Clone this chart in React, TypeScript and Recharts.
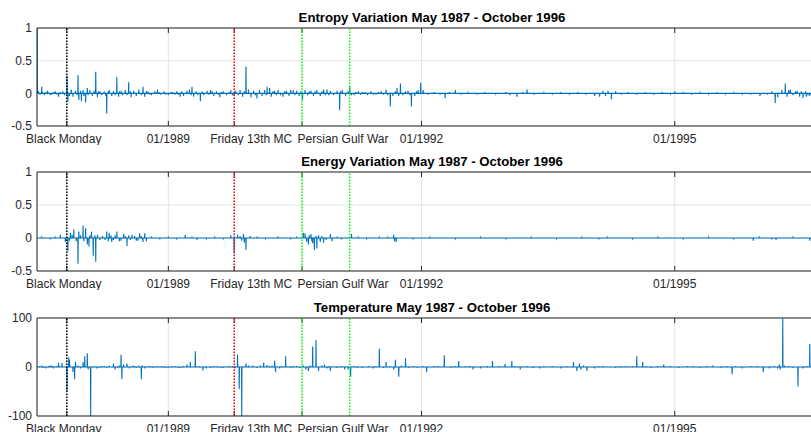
import React from "react";
import { LineChart, Line, XAxis, YAxis, CartesianGrid, ReferenceLine } from "recharts";

// time axis in decimal years
const X_START = 1987.444;
const X_END = 1996.804;

const EVENT_DATES = [1987.797, 1989.781, 1990.584, 1991.148];
const EVENT_COLORS = ["#000000", "#ff0000", "#00ff00", "#00ff00"];

const X_TICKS = [1987.797, 1989, 1989.781, 1990.584, 1992, 1995];
const X_TICK_LABELS = ["Black Monday", "01/1989", "Friday 13th MC", "Persian Gulf War", "01/1992", "01/1995"];
const X_TICK_DX = [-3, 0, 17, 41, 0, 0];

// [date, value]
const ENTROPY_SPIKES = [
  [1987.446, 1.0], [1987.5, 0.1], [1987.8, 0.27], [1987.81, -0.12], [1987.93, 0.28], [1987.94, -0.1],
  [1987.97, -0.12], [1988.02, -0.14], [1988.04, 0.08], [1988.14, 0.33], [1988.16, -0.06], [1988.27, -0.31],
  [1988.3, 0.05], [1988.39, 0.25], [1988.41, -0.05], [1988.53, 0.17], [1988.56, -0.06], [1988.7, 0.1],
  [1988.72, -0.05], [1988.87, 0.06], [1989.14, -0.05], [1989.28, 0.1], [1989.3, -0.05], [1989.38, -0.12],
  [1989.61, -0.06], [1989.74, 0.05], [1989.78, -0.04], [1989.92, 0.41], [1990.05, -0.08], [1990.17, 0.1],
  [1990.36, -0.05], [1990.48, 0.05], [1990.59, -0.1], [1990.88, 0.06], [1991.03, -0.26], [1991.15, 0.11],
  [1991.63, -0.2], [1991.75, 0.15], [1991.88, -0.2], [1991.99, 0.16], [1992.02, 0.05], [1992.28, -0.07],
  [1992.4, 0.05], [1993.13, -0.05], [1993.25, 0.06], [1994.11, -0.05], [1994.21, 0.04], [1994.25, -0.09],
  [1995.0, 0.03], [1995.5, 0.02], [1996.01, -0.04], [1996.19, -0.15], [1996.31, 0.15], [1996.33, -0.05],
  [1996.37, 0.06], [1996.45, 0.04], [1996.52, -0.07], [1996.56, -0.05], [1996.6, -0.04],
];
const ENTROPY_NOISE = [
  [1987.46, 0.03], [1987.48, -0.02], [1987.51, 0.02], [1987.53, -0.03], [1987.55, 0.02], [1987.57, 0.04],
  [1987.6, -0.03], [1987.62, -0.02], [1987.64, 0.02], [1987.66, 0.03], [1987.68, -0.02], [1987.7, -0.05],
  [1987.72, 0.02], [1987.75, 0.03], [1987.77, -0.03], [1987.83, -0.04], [1987.85, 0.06], [1987.87, -0.05],
  [1987.9, 0.04], [1987.92, -0.03], [1987.96, 0.04], [1987.99, 0.05], [1988.0, -0.04], [1988.05, -0.03],
  [1988.07, 0.05], [1988.1, -0.04], [1988.12, 0.04], [1988.17, 0.03], [1988.19, 0.03], [1988.21, -0.03],
  [1988.24, 0.03], [1988.26, -0.04], [1988.29, 0.03], [1988.33, -0.04], [1988.35, 0.04], [1988.37, -0.03],
  [1988.42, 0.03], [1988.44, 0.04], [1988.46, -0.03], [1988.49, 0.05], [1988.51, -0.03], [1988.55, 0.03],
  [1988.59, 0.04], [1988.62, -0.04], [1988.65, 0.06], [1988.68, -0.03], [1988.74, 0.03], [1988.76, 0.03],
  [1988.78, -0.02], [1988.8, -0.03], [1988.84, 0.03], [1988.89, 0.02], [1988.91, -0.02], [1988.95, 0.03],
  [1988.97, -0.02], [1989.0, -0.03], [1989.03, 0.02], [1989.05, 0.02], [1989.08, -0.02], [1989.1, 0.03],
  [1989.12, -0.02], [1989.16, 0.03], [1989.18, -0.04], [1989.22, 0.04], [1989.25, 0.06], [1989.27, -0.03],
  [1989.33, 0.03], [1989.35, -0.03], [1989.4, 0.03], [1989.42, -0.03], [1989.46, 0.04], [1989.48, -0.02],
  [1989.5, 0.05], [1989.52, 0.03], [1989.54, -0.04], [1989.57, 0.03], [1989.59, -0.02], [1989.63, 0.02],
  [1989.65, 0.03], [1989.69, -0.03], [1989.72, 0.02], [1989.76, -0.03], [1989.8, 0.04], [1989.83, -0.03],
  [1989.85, 0.05], [1989.88, -0.05], [1989.9, 0.03], [1989.95, 0.06], [1989.98, -0.06], [1990.01, 0.04],
  [1990.03, -0.03], [1990.08, 0.05], [1990.11, -0.04], [1990.14, 0.05], [1990.16, -0.03], [1990.2, 0.08],
  [1990.22, -0.05], [1990.24, 0.03], [1990.26, 0.04], [1990.28, -0.03], [1990.3, 0.05], [1990.33, -0.03],
  [1990.38, 0.03], [1990.4, 0.04], [1990.43, -0.04], [1990.45, 0.05], [1990.5, -0.03], [1990.52, 0.04],
  [1990.55, -0.04], [1990.57, 0.03], [1990.62, 0.05], [1990.65, -0.03], [1990.67, 0.03], [1990.69, 0.04],
  [1990.72, -0.04], [1990.74, 0.03], [1990.76, 0.05], [1990.8, -0.04], [1990.82, 0.03], [1990.84, 0.06],
  [1990.86, -0.03], [1990.9, -0.03], [1990.92, 0.04], [1990.96, -0.03], [1991.0, 0.04], [1991.04, 0.03],
  [1991.06, 0.05], [1991.1, -0.04], [1991.13, 0.04], [1991.17, -0.03], [1991.2, -0.03], [1991.22, 0.02],
  [1991.25, 0.03], [1991.28, -0.02], [1991.3, 0.02], [1991.33, 0.02], [1991.36, -0.03], [1991.4, 0.03],
  [1991.43, -0.02], [1991.46, -0.02], [1991.49, 0.02], [1991.52, 0.03], [1991.55, -0.02], [1991.58, 0.06],
  [1991.6, -0.03], [1991.66, -0.04], [1991.69, 0.03], [1991.71, 0.08], [1991.73, -0.04], [1991.78, -0.03],
  [1991.81, 0.03], [1991.84, 0.04], [1991.86, -0.03], [1991.92, -0.04], [1991.94, 0.03], [1991.96, 0.05],
  [1992.08, -0.02], [1992.15, 0.02], [1992.22, -0.02], [1992.33, 0.02], [1992.47, -0.02], [1992.55, 0.01],
  [1992.66, -0.02], [1992.75, 0.02], [1992.88, -0.01], [1993.0, 0.02], [1993.05, -0.03], [1993.2, 0.02],
  [1993.33, -0.02], [1993.45, 0.01], [1993.55, -0.02], [1993.65, 0.02], [1993.75, -0.01], [1993.85, 0.02],
  [1993.95, -0.01], [1994.05, -0.04], [1994.15, 0.04], [1994.18, -0.04], [1994.3, 0.03], [1994.37, -0.02],
  [1994.45, 0.02], [1994.55, -0.02], [1994.65, 0.02], [1994.75, -0.02], [1994.85, 0.02], [1994.95, -0.01],
  [1995.1, 0.01], [1995.2, -0.02], [1995.3, 0.01], [1995.4, -0.01], [1995.6, -0.01], [1995.7, 0.01],
  [1995.8, -0.01], [1995.9, -0.02], [1996.1, -0.02], [1996.15, 0.03], [1996.22, -0.06], [1996.27, 0.05],
  [1996.35, 0.05], [1996.4, -0.03], [1996.43, 0.03], [1996.48, -0.05], [1996.5, 0.03], [1996.55, 0.03],
  [1996.58, -0.03], [1996.63, -0.05], [1996.66, 0.03], [1996.7, -0.04],
];

const ENERGY_SPIKES = [
  [1987.72, 0.05], [1987.78, -0.06], [1987.81, -0.2], [1987.84, 0.08], [1987.88, 0.13], [1987.93, -0.39],
  [1987.94, 0.1], [1987.99, 0.19], [1988.02, 0.15], [1988.04, -0.1], [1988.06, -0.13], [1988.09, 0.1],
  [1988.11, -0.27], [1988.14, -0.36], [1988.16, 0.05], [1988.27, 0.1], [1988.29, -0.05], [1988.3, 0.08],
  [1988.33, -0.06], [1988.39, 0.1], [1988.42, -0.05], [1988.47, 0.06], [1988.51, -0.12], [1988.57, 0.05],
  [1988.62, -0.04], [1988.66, 0.07], [1988.7, -0.06], [1988.72, 0.07], [1988.74, -0.05], [1989.2, 0.05],
  [1989.34, -0.03], [1989.74, 0.04], [1989.78, -0.23], [1989.82, 0.05], [1989.89, 0.06], [1989.9, -0.07],
  [1989.92, -0.18], [1989.97, 0.03], [1990.6, 0.08], [1990.62, 0.07], [1990.64, -0.06], [1990.66, -0.1],
  [1990.69, 0.06], [1990.71, -0.08], [1990.73, -0.18], [1990.76, -0.16], [1990.78, 0.04], [1990.8, -0.06],
  [1990.84, -0.07], [1990.92, 0.06], [1990.94, -0.05], [1991.17, 0.06], [1991.67, 0.05], [1991.68, -0.05],
  [1991.7, -0.06], [1995.93, -0.04], [1996.6, -0.04],
];
const ENERGY_NOISE = [
  [1987.5, 0.01], [1987.6, -0.01], [1987.66, 0.01], [1987.83, -0.04], [1987.86, 0.05], [1987.91, -0.05],
  [1987.96, 0.04], [1988.0, -0.05], [1988.07, 0.04], [1988.13, 0.04], [1988.19, -0.03], [1988.22, 0.03],
  [1988.25, -0.03], [1988.32, 0.04], [1988.35, -0.03], [1988.37, 0.04], [1988.44, -0.04], [1988.49, 0.03],
  [1988.53, 0.04], [1988.55, -0.03], [1988.6, 0.03], [1988.64, -0.04], [1988.68, 0.03], [1988.8, 0.02],
  [1988.9, -0.01], [1989.0, 0.01], [1989.1, -0.01], [1989.28, 0.02], [1989.45, -0.01], [1989.55, 0.01],
  [1989.65, -0.01], [1989.85, 0.03], [1989.87, -0.04], [1990.05, 0.02], [1990.15, -0.01], [1990.3, 0.02],
  [1990.45, -0.02], [1990.52, 0.02], [1990.67, 0.04], [1990.7, -0.05], [1990.75, 0.03], [1990.82, 0.03],
  [1990.87, -0.03], [1991.0, 0.02], [1991.05, -0.02], [1991.25, 0.01], [1991.35, -0.01], [1991.5, 0.01],
  [1991.6, 0.01], [1991.9, -0.01], [1992.1, 0.01], [1992.4, -0.01], [1992.7, 0.01], [1993.0, -0.01],
  [1993.3, 0.01], [1993.6, -0.01], [1993.9, 0.01], [1994.1, -0.02], [1994.2, 0.01], [1994.5, -0.01],
  [1994.8, 0.01], [1995.1, -0.01], [1995.4, 0.01], [1995.7, -0.01], [1996.0, 0.01], [1996.15, -0.02],
  [1996.2, -0.03], [1996.4, 0.01],
];

const TEMP_SPIKES = [
  [1987.5, 3], [1987.55, -3], [1987.6, 3], [1987.7, 8], [1987.74, 8], [1987.8, -50], [1987.82, 20],
  [1987.83, 15], [1987.87, -10], [1987.89, -25], [1987.9, 10], [1987.99, 10], [1988.01, 22], [1988.04, 28],
  [1988.05, -5], [1988.08, -100], [1988.3, 3], [1988.35, 7], [1988.37, -5], [1988.44, 25], [1988.45, -25],
  [1988.47, 5], [1988.51, 7], [1988.54, -3], [1988.68, -25], [1988.69, 3], [1988.72, -3], [1989.22, 5],
  [1989.26, 10], [1989.32, 32], [1989.41, -7], [1989.45, -3], [1989.79, -3], [1989.82, 25], [1989.84, -45],
  [1989.87, -100], [1989.92, 7], [1990.13, 9], [1990.17, 4], [1990.26, 13], [1990.27, -10], [1990.32, -3],
  [1990.39, 22], [1990.6, 3], [1990.63, -5], [1990.66, -8], [1990.71, 42], [1990.75, 55], [1990.78, -8],
  [1990.85, 5], [1990.92, -8], [1991.09, -5], [1991.13, -5], [1991.16, -20], [1991.43, -3], [1991.5, 37],
  [1991.58, 10], [1991.67, -5], [1991.69, 15], [1991.73, -20], [1991.81, 18], [1991.9, 2], [1992.06, -10],
  [1992.27, 24], [1992.44, 12], [1992.61, -5], [1992.84, 12], [1992.99, 6], [1993.07, 12], [1993.17, -5],
  [1993.4, -3], [1993.8, 10], [1993.84, -8], [1993.87, 7], [1993.89, -5], [1993.96, -8], [1994.55, 22],
  [1994.62, 10], [1994.87, 5], [1995.68, -15], [1996.05, -10], [1996.24, 5], [1996.25, -5], [1996.28, 100],
  [1996.3, 3], [1996.46, -40], [1996.6, 47],
];
const TEMP_NOISE = [
  [1987.47, 2], [1987.52, -2], [1987.58, 2], [1987.62, 3], [1987.64, -3], [1987.68, 2], [1987.93, 3],
  [1987.96, -3], [1988.12, 2], [1988.15, -3], [1988.18, -2], [1988.21, 2], [1988.24, 2], [1988.27, -2],
  [1988.4, -2], [1988.42, 3], [1988.58, 3], [1988.6, 2], [1988.62, -2], [1988.65, 3], [1988.76, 2],
  [1988.79, 2], [1988.82, -2], [1988.86, 2], [1988.92, 2], [1988.96, -2], [1989.0, -2], [1989.04, 2],
  [1989.08, 2], [1989.12, -2], [1989.15, -2], [1989.18, 2], [1989.37, 2], [1989.5, -2], [1989.54, 2],
  [1989.58, 2], [1989.62, -2], [1989.65, -2], [1989.72, 2], [1989.76, 2], [1989.95, 3], [1990.0, 3],
  [1990.05, -2], [1990.09, 3], [1990.2, 2], [1990.23, 3], [1990.35, 2], [1990.45, -2], [1990.48, 2],
  [1990.52, 2], [1990.56, -2], [1990.68, 3], [1990.82, 3], [1990.88, -3], [1990.9, 2], [1991.0, -2],
  [1991.05, 2], [1991.2, 2], [1991.24, -2], [1991.3, -2], [1991.38, 2], [1991.46, 2], [1991.55, -2],
  [1991.62, 2], [1991.76, 3], [1991.85, -2], [1991.95, -2], [1992.02, 2], [1992.15, 2], [1992.2, 2],
  [1992.35, -2], [1992.4, 2], [1992.52, 2], [1992.57, 2], [1992.7, -3], [1992.78, 2], [1992.92, 2],
  [1993.1, 2], [1993.25, 2], [1993.32, -2], [1993.45, 2], [1993.55, 2], [1993.65, -3], [1993.72, 2],
  [1993.92, 3], [1994.05, -3], [1994.1, 2], [1994.15, 2], [1994.3, -2], [1994.36, 2], [1994.42, 2],
  [1994.5, 2], [1994.66, 2], [1994.72, -2], [1994.8, 2], [1994.95, 2], [1995.05, -2], [1995.15, 2],
  [1995.22, 2], [1995.3, -2], [1995.38, 2], [1995.45, 3], [1995.55, -2], [1995.62, 2], [1995.72, 2],
  [1995.8, -3], [1995.9, 2], [1995.98, 2], [1996.12, -3], [1996.18, 2], [1996.22, -3], [1996.35, 2],
  [1996.4, -2], [1996.52, -3], [1996.56, 2], [1996.64, -2], [1996.7, 2],
];

// each reading is drawn as a thin vertical stroke off the zero line
function buildSeries(spikes: number[][], noise: number[][]) {
  const pts: { t: number; v: number }[] = [{ t: X_START - 0.01, v: 0 }];
  [...spikes, ...noise].forEach(([t, v]) => {
    pts.push({ t: t - 0.0025, v: 0 }, { t, v }, { t: t + 0.0025, v: 0 });
  });
  pts.push({ t: X_END + 0.1, v: 0 });
  pts.sort((a, b) => a.t - b.t);
  return pts;
}

const FONT = "'Liberation Sans', Arial, Helvetica, sans-serif";
const AXIS = "#262626";

const XTick = (props: any) => {
  const { x, y, payload } = props;
  const i = X_TICKS.indexOf(payload.value);
  return (
    <text x={x + X_TICK_DX[i]} y={y} dy="0.71em" textAnchor="middle" fontSize={12} fill={AXIS} fontFamily={FONT}>
      {X_TICK_LABELS[i]}
    </text>
  );
};

function Panel({ title, data, yDomain, yTicks, top, marginTop }: any) {
  const plotH = 145 - 19 - marginTop;
  return (
    <div style={{ position: "absolute", left: 0, top, width: 830, height: 145 }}>
      <div
        style={{
          position: "absolute", left: 37, width: 790, top: marginTop - 18, textAlign: "center",
          fontFamily: FONT, fontWeight: "bold", fontSize: 13.2, color: "#000", lineHeight: "15px",
        }}
      >
        {title}
      </div>
      <LineChart width={830} height={145} data={data} margin={{ top: marginTop, right: 3, bottom: 0, left: 0 }}>
        <CartesianGrid stroke="#e4e4e4" />
        <XAxis
          dataKey="t" type="number" domain={[X_START, X_END]} allowDataOverflow ticks={X_TICKS} interval={0}
          tick={XTick} tickSize={0} tickMargin={8} height={19} stroke={AXIS}
        />
        <YAxis
          type="number" domain={yDomain} ticks={yTicks} allowDataOverflow interval={0} width={37}
          tickSize={0} tickMargin={5} stroke={AXIS}
          tick={{ fontSize: 12, fill: AXIS, fontFamily: FONT }}
        />
        <ReferenceLine y={yDomain[1]} stroke={AXIS} />
        {X_TICKS.map((t) => (
          <ReferenceLine key={"tk" + t} x={t} stroke={AXIS} strokeDasharray={`5 ${plotH - 10} 5`} />
        ))}
        <Line type="linear" dataKey="v" stroke="#0072BD" strokeWidth={1.1} dot={false} isAnimationActive={false} />
        {EVENT_DATES.map((d, i) => (
          <ReferenceLine key={"ev" + i} x={d} stroke={EVENT_COLORS[i]} strokeWidth={1.5} strokeDasharray="1.5 1.5" />
        ))}
      </LineChart>
    </div>
  );
}

export default function App() {
  return (
    <div style={{ position: "absolute", left: 0, top: 0, width: 811, height: 432, overflow: "hidden", background: "#fff" }}>
      <Panel
        title="Entropy Variation May 1987 - October 1996"
        data={buildSeries(ENTROPY_SPIKES, ENTROPY_NOISE)}
        yDomain={[-0.5, 1]} yTicks={[-0.5, 0, 0.5, 1]} top={0} marginTop={28}
      />
      <Panel
        title="Energy Variation May 1987 - October 1996"
        data={buildSeries(ENERGY_SPIKES, ENERGY_NOISE)}
        yDomain={[-0.5, 1]} yTicks={[-0.5, 0, 0.5, 1]} top={145} marginTop={27}
      />
      <Panel
        title="Temperature May 1987 - October 1996"
        data={buildSeries(TEMP_SPIKES, TEMP_NOISE)}
        yDomain={[-100, 100]} yTicks={[-100, 0, 100]} top={290} marginTop={28}
      />
    </div>
  );
}
